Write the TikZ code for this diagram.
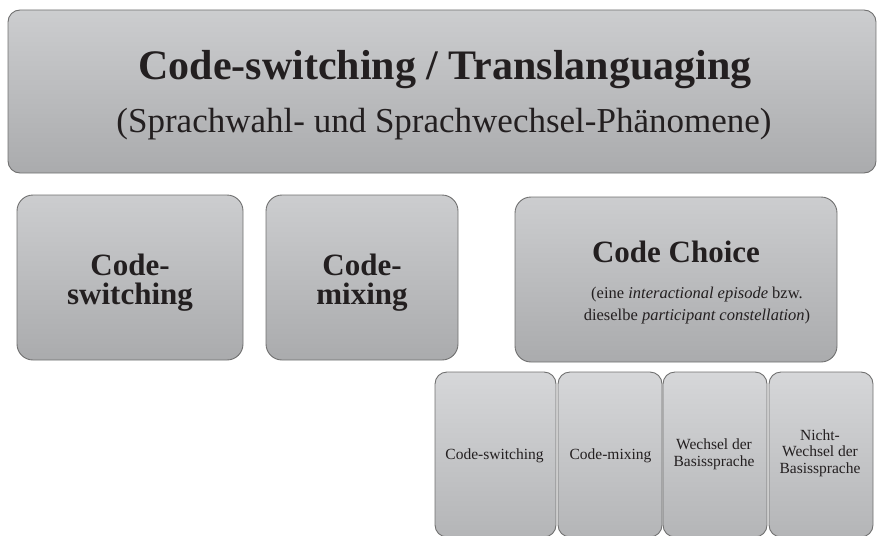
\documentclass[tikz,border=0pt]{standalone}
\usepackage{fontspec}
\setmainfont{Liberation Serif}
\usepackage{xcolor}
\definecolor{boxtop}{RGB}{204,205,207}
\definecolor{boxbot}{RGB}{170,171,173}
\definecolor{subtop}{RGB}{214,215,217}
\definecolor{subbot}{RGB}{180,181,183}
\definecolor{boxline}{RGB}{112,112,112}
\definecolor{ink}{RGB}{35,31,32}
\tikzset{panel/.style={draw=boxline, line width=0.9pt, rounded corners=#1,
   top color=boxtop, bottom color=boxbot, inner sep=0pt},
 subpanel/.style={panel=12pt, top color=subtop, bottom color=subbot,
   minimum width=104pt, minimum height=165pt},
 label/.style={text=ink, align=center, anchor=base, inner sep=0pt},
 bigbold/.style={label, font=\fsz{31}{29}\bfseries},
 small/.style={label, font=\fsz{15.5}{17}},
 }
\newcommand{\fsz}[2]{\fontsize{#1}{#2}\selectfont}

\begin{document}
\begin{tikzpicture}[x=1pt, y=1pt]
        \clip (0, 0) rectangle (877, -535);
        % boxes
        \node[panel=12pt, minimum width=868pt, minimum height=163pt] (top) at (442, -91.5) {};
        \node[panel=16pt, minimum width=226pt, minimum height=165pt] (cs) at (130, -277.5) {};
        \node[panel=16pt, minimum width=192pt, minimum height=165pt] (cm) at (362, -277.5) {};
        \node[panel=16pt, minimum width=322pt, minimum height=165pt] (cc) at (676, -279.5) {};
        \node[subpanel, minimum width=121pt] (s1) at (495.5, -454.5) {};
        \node[subpanel] (s2) at (610, -454.5) {};
        \node[subpanel] (s3) at (715, -454.5) {};
        \node[subpanel] (s4) at (821, -454.5) {};

        % texts (base = last line)
        \node[label, font=\fsz{42}{46}\bfseries] (topTitle) at (445, -79) {Code-switching / Translanguaging};
        \node[label, font=\fsz{35}{40}] (topSub) at (444, -132) {(Sprachwahl- und Sprachwechsel-Phänomene)};
        \node[bigbold] (csText) at (130, -304) {Code-\\switching};
        \node[bigbold] (cmText) at (362, -304) {Code-\\mixing};
        \node[bigbold] (ccTitle) at (676, -262) {Code Choice};
        \node[label, font=\fsz{16.5}{22}] (ccSub) at (697, -320) {(eine \textit{interactional episode} bzw.\\dieselbe \textit{participant constellation})};
        \node[small] (s1Text) at (494.5, -459) {Code-switching};
        \node[small] (s2Text) at (610.5, -459) {Code-mixing};
        \node[small] (s3Text) at (714, -466) {Wechsel der\\Basissprache};
        \node[small, font=\fsz{15.5}{16.5}] (s4Text) at (820, -473) {Nicht-\\Wechsel der\\Basissprache};
    \end{tikzpicture}
\end{document}
